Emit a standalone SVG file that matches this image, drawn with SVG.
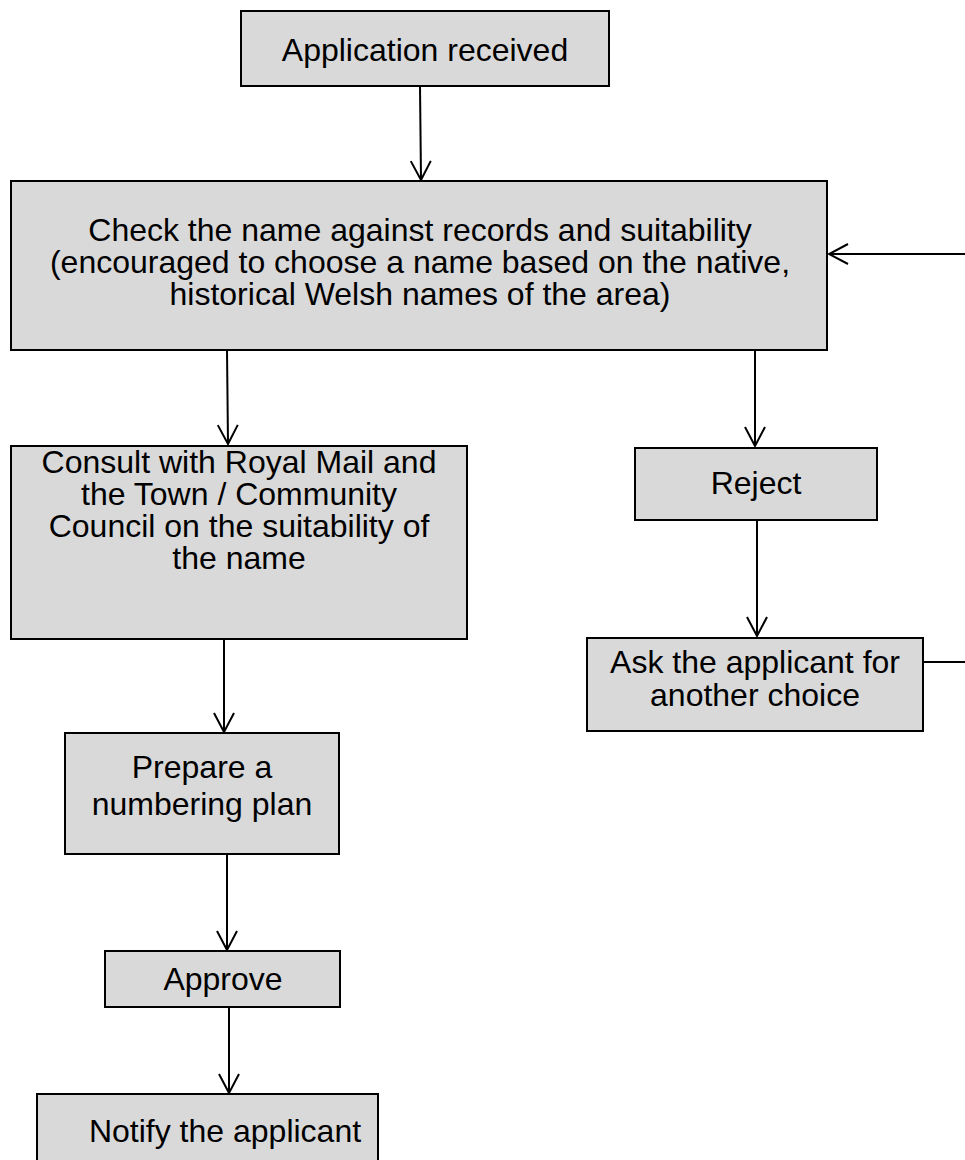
<svg xmlns="http://www.w3.org/2000/svg" width="965" height="1160" viewBox="0 0 965 1160">
<style>
.box{fill:#d9d9d9;stroke:#000;stroke-width:2}
.t{font-family:"Liberation Sans",Arial,sans-serif;font-size:32px;fill:#000;text-anchor:middle}
.c{fill:none;stroke:#000;stroke-width:2}
</style>
<defs>
<marker id="ah" markerUnits="userSpaceOnUse" markerWidth="24" markerHeight="24" viewBox="-22 -12 24 24" refX="0" refY="0" orient="auto">
<path d="M-19,-10 L0,0 L-19,10" fill="none" stroke="#000" stroke-width="2"/>
</marker>
</defs>
<rect width="965" height="1160" fill="#fff"/>
<g id="connectors">
<line class="c" x1="420" y1="86" x2="421" y2="180" marker-end="url(#ah)"/>
<line class="c" x1="227" y1="350" x2="228" y2="444" marker-end="url(#ah)"/>
<line class="c" x1="755" y1="350" x2="755" y2="446" marker-end="url(#ah)"/>
<line class="c" x1="757" y1="520" x2="757" y2="636" marker-end="url(#ah)"/>
<line class="c" x1="224" y1="639" x2="224" y2="732" marker-end="url(#ah)"/>
<line class="c" x1="227" y1="854" x2="227" y2="950" marker-end="url(#ah)"/>
<line class="c" x1="229" y1="1007" x2="229" y2="1093" marker-end="url(#ah)"/>
<polyline class="c" points="923,662 968,662 968,254 829,254" marker-end="url(#ah)"/>
</g>
<g id="n1"><rect class="box" x="241" y="11" width="368" height="75"/><text class="t" x="425" y="61">Application received</text></g>
<g id="n2"><rect class="box" x="11" y="181" width="816" height="169"/>
<text class="t" x="420" y="241">Check the name against records and suitability</text>
<text class="t" x="420" y="273">(encouraged to choose a name based on the native,</text>
<text class="t" x="420" y="305">historical Welsh names of the area)</text></g>
<g id="n3"><rect class="box" x="11" y="446" width="456" height="193"/>
<text class="t" x="239" y="473">Consult with Royal Mail and</text>
<text class="t" x="239" y="505">the Town / Community</text>
<text class="t" x="239" y="537">Council on the suitability of</text>
<text class="t" x="239" y="569">the name</text></g>
<g id="n4"><rect class="box" x="635" y="448" width="242" height="72"/><text class="t" x="756" y="494">Reject</text></g>
<g id="n5"><rect class="box" x="587" y="638" width="336" height="93"/>
<text class="t" x="755" y="673">Ask the applicant for</text>
<text class="t" x="755" y="706">another choice</text></g>
<g id="n6"><rect class="box" x="65" y="733" width="274" height="121"/>
<text class="t" x="202" y="778">Prepare a</text>
<text class="t" x="202" y="815">numbering plan</text></g>
<g id="n7"><rect class="box" x="105" y="951" width="235" height="56"/><text class="t" x="223" y="990">Approve</text></g>
<g id="n8"><rect class="box" x="37" y="1094" width="341" height="80"/><text class="t" x="225" y="1142">Notify the applicant</text></g>
</svg>
